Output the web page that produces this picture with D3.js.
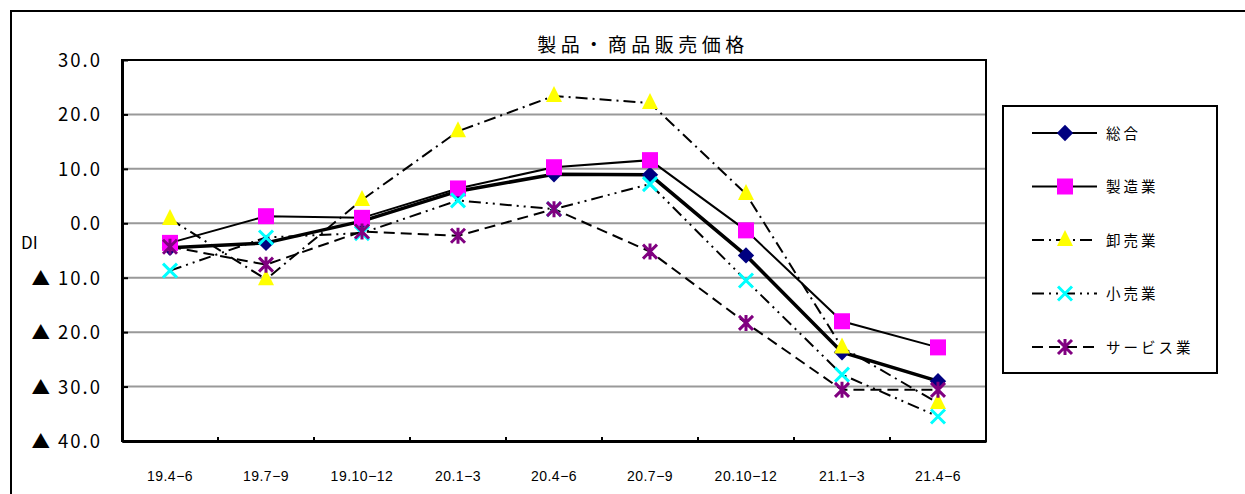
<!DOCTYPE html>
<html lang="ja">
<head>
<meta charset="utf-8">
<title>製品・商品販売価格</title>
<script src="https://cdn.jsdelivr.net/npm/d3@7"></script>
<style>
  body { margin: 0; background: #fff; }
  svg text { font-family: "Noto Sans CJK JP", "DejaVu Sans", sans-serif; fill: #000; }
</style>
</head>
<body>
<script>
// categories (quarters)
var periods = ["19.4-6", "19.7-9", "19.10-12", "20.1-3", "20.4-6", "20.7-9", "20.10-12", "21.1-3", "21.4-6"];

// series values (DI)
var sogo     = [-4.5, -3.6, 0.4, 5.9, 9.0, 8.9, -5.9, -23.7, -29.0];
var seizo    = [-3.6, 1.3, 1.0, 6.4, 10.3, 11.6, -1.3, -18.0, -22.8];
var oroshi   = [0.8, -10.3, 4.3, 16.9, 23.4, 22.1, 5.4, -22.8, -33.0];
var kouri    = [-8.7, -2.6, -1.8, 4.2, 2.6, 7.2, -10.5, -27.8, -35.5];
var service  = [-4.3, -7.6, -1.5, -2.3, 2.6, -5.2, -18.3, -30.6, -30.6];

var seriesNames = ["総合", "製造業", "卸売業", "小売業", "サービス業"];
var yTicks = [30, 20, 10, 0, -10, -20, -30, -40];

var W = 1245, H = 494;
var m = { left: 122, top: 60, right: 986, bottom: 441 };

var svg = d3.select("body").append("svg")
  .attr("width", W).attr("height", H);

// outer frame (right/bottom run off the picture)
svg.append("rect")
  .attr("x", 11).attr("y", 11)
  .attr("width", 1260).attr("height", 500)
  .attr("fill", "none").attr("stroke", "#000").attr("stroke-width", 2);

var x = d3.scaleBand().domain(periods).range([m.left, m.right]);
var y = d3.scaleLinear().domain([-40, 30]).range([m.bottom, m.top]);

// gridlines
svg.append("g").selectAll("line")
  .data(yTicks.filter(function(d) { return d > -40 && d < 30; }))
  .enter().append("line")
  .attr("x1", m.left).attr("x2", m.right)
  .attr("y1", function(d) { return y(d); })
  .attr("y2", function(d) { return y(d); })
  .attr("stroke", "#999").attr("stroke-width", 2);

// plot frame
svg.append("rect")
  .attr("x", m.left).attr("y", m.top)
  .attr("width", m.right - m.left).attr("height", m.bottom - m.top)
  .attr("fill", "none").attr("stroke", "#000").attr("stroke-width", 2);

// y axis
var yAxis = d3.axisLeft(y).tickValues(yTicks).tickSizeInner(-6).tickSizeOuter(0)
  .tickFormat(function(d) { return d < 0 ? "▲ " + d3.format(".1f")(-d) : d3.format(".1f")(d); });
var gy = svg.append("g").attr("transform", "translate(" + m.left + ",0)").call(yAxis);
gy.select(".domain").attr("stroke-width", 3);
gy.selectAll(".tick line").attr("stroke-width", 2);
gy.selectAll(".tick text")
  .attr("x", -20).attr("dy", "0.35em")
  .style("font-size", "18.5px").style("letter-spacing", "2px");

// x axis
var xAxis = d3.axisBottom(x).tickSize(0)
  .tickFormat(function(d) { return d.replace("-", "−"); });
var gx = svg.append("g").attr("transform", "translate(0," + m.bottom + ")").call(xAxis);
gx.select(".domain").attr("stroke-width", 3);
gx.selectAll(".tick text")
  .attr("y", 30).style("font-size", "14px").style("letter-spacing", "0.5px")
  .style("font-family", "Arial, 'Liberation Sans', sans-serif");
// small ticks at band boundaries
svg.append("g").selectAll("line")
  .data(periods.slice(1))
  .enter().append("line")
  .attr("x1", function(d) { return x(d); })
  .attr("x2", function(d) { return x(d); })
  .attr("y1", m.bottom).attr("y2", m.bottom - 4)
  .attr("stroke", "#000").attr("stroke-width", 2);

svg.append("text")
  .attr("x", 21).attr("y", 249)
  .style("font-size", "17px")
  .text("DI");

// title
svg.append("text")
  .attr("x", 643).attr("y", 52)
  .attr("text-anchor", "middle")
  .style("font-size", "19px").style("letter-spacing", "4.5px")
  .text("製品・商品販売価格");

var series = [
  { name: seriesNames[0], values: sogo,    width: 3.5, dash: null,               shape: "diamond", color: "#000080" },
  { name: seriesNames[1], values: seizo,   width: 2,   dash: null,               shape: "square",  color: "#ff00ff" },
  { name: seriesNames[2], values: oroshi,  width: 2,   dash: "12,5,2,5",         shape: "triangle", color: "#ffff00" },
  { name: seriesNames[3], values: kouri,   width: 2,   dash: "12,5,2,5,2,5",     shape: "cross",   color: "#00ffff" },
  { name: seriesNames[4], values: service, width: 2,   dash: "11,6",             shape: "star",    color: "#800080" }
];

var line = d3.line()
  .x(function(d, i) { return x(periods[i]) + x.bandwidth() / 2; })
  .y(function(d) { return y(d); });

function drawMarker(g, s, cx, cy) {
  if (s.shape === "diamond") {
    g.append("path").attr("d", d3.symbol(d3.symbolDiamond2, 170)())
      .attr("transform", "translate(" + cx + "," + cy + ")").attr("fill", s.color);
  } else if (s.shape === "square") {
    g.append("rect").attr("x", cx - 8).attr("y", cy - 8).attr("width", 16).attr("height", 16)
      .attr("fill", s.color);
  } else if (s.shape === "triangle") {
    g.append("path").attr("d", "M0,-10L8,6L-8,6Z")
      .attr("transform", "translate(" + cx + "," + cy + ")").attr("fill", s.color);
  } else if (s.shape === "cross") {
    g.append("path").attr("d", "M-7,-7L7,7M-7,7L7,-7")
      .attr("transform", "translate(" + cx + "," + cy + ")")
      .attr("stroke", s.color).attr("stroke-width", 3).attr("fill", "none");
  } else {
    g.append("path").attr("d", "M-7,-7L7,7M-7,7L7,-7M0,-8L0,8")
      .attr("transform", "translate(" + cx + "," + cy + ")")
      .attr("stroke", s.color).attr("stroke-width", 3).attr("fill", "none");
  }
}

// lines first, then markers on top
var plot = svg.append("g");
series.slice().reverse().forEach(function(s) {
  plot.append("path")
    .attr("d", line(s.values))
    .attr("fill", "none").attr("stroke", "#000")
    .attr("stroke-width", s.width)
    .attr("stroke-dasharray", s.dash);
});
series.forEach(function(s) {
  s.values.forEach(function(v, i) {
    drawMarker(plot, s, x(periods[i]) + x.bandwidth() / 2, y(v));
  });
});

// legend
var lg = svg.append("g");
lg.append("rect")
  .attr("x", 1003).attr("y", 106).attr("width", 214).attr("height", 267)
  .attr("fill", "#fff").attr("stroke", "#000").attr("stroke-width", 2);
series.forEach(function(s, i) {
  var ly = 133 + i * 53.5;
  lg.append("line")
    .attr("x1", 1032).attr("x2", 1097).attr("y1", ly).attr("y2", ly)
    .attr("stroke", "#000").attr("stroke-width", 2).attr("stroke-dasharray", s.dash);
  drawMarker(lg, s, 1065, ly);
  lg.append("text")
    .attr("x", 1106).attr("y", ly).attr("dy", "0.4em")
    .style("font-size", "14.5px").style("letter-spacing", "3px")
    .text(s.name);
});
</script>
</body>
</html>
